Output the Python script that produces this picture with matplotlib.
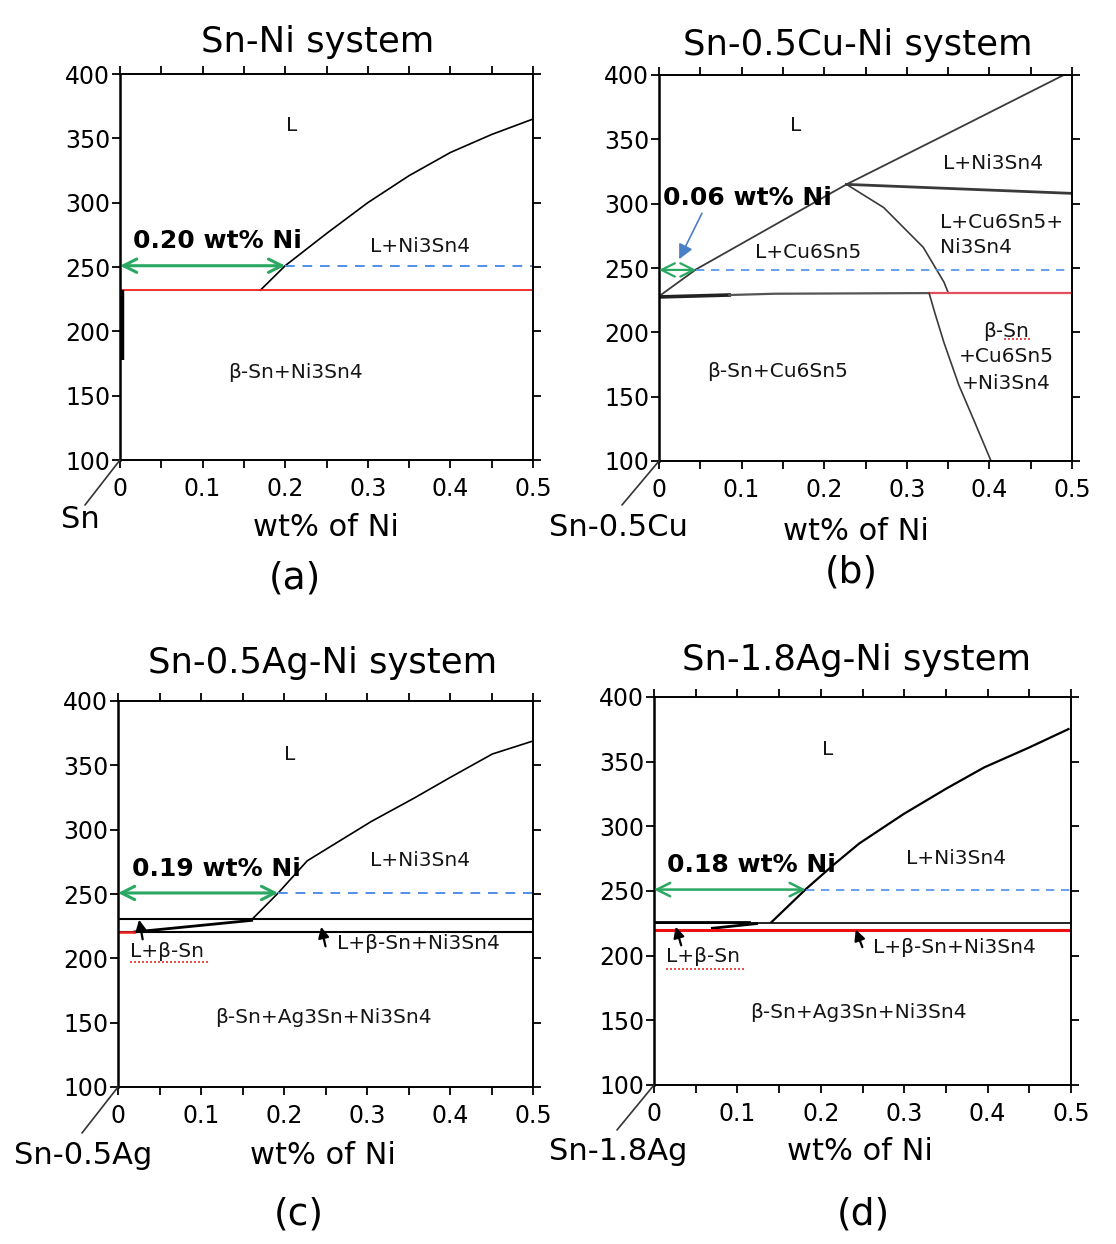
import matplotlib
matplotlib.use('Agg')
import matplotlib.pyplot as plt
from matplotlib.ticker import FixedLocator, FixedFormatter

plt.rcParams['font.family'] = ['DejaVu Sans']

W, H = 1116, 1244

# ---------------- data ----------------
x_major = [0, 0.1, 0.2, 0.3, 0.4, 0.5]
x_major_labels = ['0', '0.1', '0.2', '0.3', '0.4', '0.5']
x_minor = [0.05, 0.15, 0.25, 0.35, 0.45]
y_major = [100, 150, 200, 250, 300, 350, 400]
y_labels = ['100', '150', '200', '250', '300', '350', '400']

titles = ['Sn-Ni system', 'Sn-0.5Cu-Ni system', 'Sn-0.5Ag-Ni system', 'Sn-1.8Ag-Ni system']
panel_tags = ['(a)', '(b)', '(c)', '(d)']
base_names = ['Sn', 'Sn-0.5Cu', 'Sn-0.5Ag', 'Sn-1.8Ag']
xlabel = 'wt% of Ni'

# (a) Sn-Ni
a_liq_x = [0.17, 0.20, 0.25, 0.30, 0.35, 0.40, 0.45, 0.50]
a_liq_T = [232, 251, 276, 300, 321, 339, 353, 365]
a_eut_T = 232
a_sn_T = [178, 232]
a_sol_x = 0.20
a_iso_T = 251

# (b) Sn-0.5Cu-Ni
b_liq1_x = [0.0, 0.045, 0.227]
b_liq1_T = [228, 249, 315]
b_liq2_x = [0.227, 0.345, 0.49]
b_liq2_T = [315, 353, 400]
b_tie_x = [0.227, 0.5]
b_tie_T = [315, 308]
b_bound_x = [0.227, 0.272, 0.320, 0.345, 0.350]
b_bound_T = [315, 297, 266, 239, 231]
b_eut_thick_x = [0.0, 0.085]
b_eut_thick_T = [227.5, 229]
b_eut_x = [0.085, 0.14, 0.327]
b_eut_T = [229, 230, 230.5]
b_eut_red_x = [0.327, 0.5]
b_eut_red_T = [230.5, 230.5]
b_solv_x = [0.327, 0.334, 0.345, 0.363, 0.381, 0.402]
b_solv_T = [230.5, 215, 192, 159, 132, 100]
b_sol_x = 0.045
b_iso_T = 248.5

# (c) Sn-0.5Ag-Ni
c_liq_x = [0.161, 0.193, 0.228, 0.305, 0.357, 0.400, 0.451, 0.500]
c_liq_T = [230, 250.8, 275.8, 306.3, 324.6, 340.5, 358.8, 368.9]
c_upper_T = 230.5
c_slope_x = [0.02, 0.161]
c_slope_T = [220.5, 229.5]
c_eut_T = 220.2
c_red_x = [0.0, 0.019]
c_sol_x = 0.193
c_iso_T = 250.8

# (d) Sn-1.8Ag-Ni
d_liq_x = [0.141, 0.182, 0.215, 0.246, 0.299, 0.350, 0.396, 0.449, 0.497]
d_liq_T = [226, 251.4, 270.1, 286.7, 309.4, 329, 345.6, 360.7, 375.2]
d_upper_T = 225.4
d_thick_x = [0.0, 0.114]
d_thick_T = [226.3, 226.3]
d_slope_x = [0.07, 0.123]
d_slope_T = [221.2, 224.8]
d_eut_T = 220
d_sol_x = 0.182
d_iso_T = 251.1

sol_labels = ['0.20 wt% Ni', '0.06 wt% Ni', '0.19 wt% Ni', '0.18 wt% Ni']

# ---------------- figure ----------------
fig = plt.figure(figsize=(W / 100, H / 100), dpi=100)

def px(x, y):
    return (x / W, 1 - y / H)

rects = [
    (120, 74, 533, 460),
    (659, 75, 1072, 461),
    (118, 701, 533, 1087),
    (654, 697, 1071, 1085),
]
axes = []
for (l, t, r, b) in rects:
    ax = fig.add_axes([l / W, 1 - b / H, (r - l) / W, (b - t) / H])
    axes.append(ax)

def setup(ax):
    ax.set_xlim(0, 0.5)
    ax.set_ylim(100, 400)
    ax.xaxis.set_major_locator(FixedLocator(x_major))
    ax.xaxis.set_major_formatter(FixedFormatter(x_major_labels))
    ax.xaxis.set_minor_locator(FixedLocator(x_minor))
    ax.yaxis.set_major_locator(FixedLocator(y_major))
    ax.yaxis.set_major_formatter(FixedFormatter(y_labels))
    ax.tick_params(axis='both', which='both', direction='out', length=5.5, width=1.3,
                   top=True, right=True, labeltop=False, labelright=False)
    ax.tick_params(axis='x', which='major', labelsize=17, pad=7)
    ax.tick_params(axis='y', which='major', labelsize=17, pad=1.5)
    for s in ax.spines.values():
        s.set_linewidth(1.4)
    ax.spines['left'].set_linewidth(1.8)

for ax in axes:
    setup(ax)

green = '#2aa862'
blue = '#4f8fe8'
txtc = '#151515'
region_fs = 14.5

def green_arrow(ax, x1, T, lw=2.2):
    ax.annotate('', xy=(0, T), xytext=(x1, T),
                arrowprops=dict(arrowstyle='<->', color=green, lw=lw,
                                mutation_scale=24, shrinkA=0, shrinkB=0),
                annotation_clip=False)

def blue_dash(ax, x0, T, lw=1.4):
    ax.plot([x0, 0.5], [T, T], color=blue, lw=lw, ls=(0, (5, 4)))

def black_arrow(ax, tail, tip):
    ax.annotate('', xy=tip, xytext=tail,
                arrowprops=dict(arrowstyle='-|>', color='black', lw=1.6,
                                mutation_scale=16, shrinkA=0, shrinkB=0))

def red_wave(ax, x0, x1, T):
    ax.plot([x0, x1], [T, T], color='#e03030', lw=1.2, ls=(0, (1.2, 1.2)))

# ---- (a)
ax = axes[0]
ax.plot(a_liq_x, a_liq_T, color='black', lw=1.2)
ax.plot([0, 0.5], [a_eut_T, a_eut_T], color='#ee2020', lw=1.3)
ax.plot([0.002, 0.002], a_sn_T, color='black', lw=3.2, solid_capstyle='butt')
blue_dash(ax, a_sol_x, a_iso_T)
green_arrow(ax, a_sol_x, a_iso_T)
ax.text(0.016, 270, sol_labels[0], fontsize=18, fontweight='bold', va='center', ha='left', color='black')
ax.text(0.208, 360, 'L', fontsize=region_fs, ha='center', va='center', color=txtc)
ax.text(0.363, 266, 'L+Ni3Sn4', fontsize=region_fs, ha='center', va='center', color=txtc)
ax.text(0.212, 168, 'β-Sn+Ni3Sn4', fontsize=region_fs, ha='center', va='center', color=txtc)

# ---- (b)
ax = axes[1]
gray = '#3a3a3a'
ax.plot(b_liq1_x, b_liq1_T, color=gray, lw=1.3)
ax.plot(b_liq2_x, b_liq2_T, color=gray, lw=1.3)
ax.plot(b_tie_x, b_tie_T, color=gray, lw=2.0)
ax.plot(b_bound_x, b_bound_T, color=gray, lw=1.2)
ax.plot(b_eut_thick_x, b_eut_thick_T, color='#222222', lw=2.6)
ax.plot(b_eut_x, b_eut_T, color='#555555', lw=1.6)
ax.plot(b_eut_red_x, b_eut_red_T, color='#e05060', lw=1.6)
ax.plot(b_solv_x, b_solv_T, color=gray, lw=1.2)
blue_dash(ax, b_sol_x, b_iso_T, lw=1.2)
green_arrow(ax, b_sol_x, b_iso_T, lw=1.6)
ax.text(0.005, 304.4, sol_labels[1], fontsize=18, fontweight='bold', va='center', ha='left', color='black')
ax.annotate('', xy=(0.0244, 256.8), xytext=(0.052, 292.5),
            arrowprops=dict(arrowstyle='-|>', color='#4a7fc8', lw=1.2,
                            mutation_scale=22, shrinkA=0, shrinkB=0))
ax.text(0.165, 360.8, 'L', fontsize=region_fs, ha='center', va='center', color=txtc)
ax.text(0.404, 331, 'L+Ni3Sn4', fontsize=region_fs, ha='center', va='center', color=txtc)
ax.text(0.181, 262, 'L+Cu6Sn5', fontsize=region_fs, ha='center', va='center', color=txtc)
ax.text(0.3406, 285, 'L+Cu6Sn5+', fontsize=region_fs, ha='left', va='center', color=txtc)
ax.text(0.3406, 265.7, 'Ni3Sn4', fontsize=region_fs, ha='left', va='center', color=txtc)
ax.text(0.4205, 200.4, 'β-Sn', fontsize=region_fs, ha='center', va='center', color=txtc)
ax.text(0.4205, 181, '+Cu6Sn5', fontsize=region_fs, ha='center', va='center', color=txtc)
ax.text(0.4205, 160, '+Ni3Sn4', fontsize=region_fs, ha='center', va='center', color=txtc)
red_wave(ax, 0.418, 0.450, 194.5)
ax.text(0.143, 169.2, 'β-Sn+Cu6Sn5', fontsize=region_fs, ha='center', va='center', color=txtc)

# ---- (c)
ax = axes[2]
ax.plot(c_liq_x, c_liq_T, color='black', lw=1.2)
ax.plot([0, 0.5], [c_upper_T, c_upper_T], color='black', lw=1.5)
ax.plot(c_slope_x, c_slope_T, color='black', lw=2.0)
ax.plot([0, 0.5], [c_eut_T, c_eut_T], color='black', lw=1.5)
ax.plot(c_red_x, [c_eut_T, c_eut_T], color='#ee2020', lw=1.8)
blue_dash(ax, c_sol_x, c_iso_T)
green_arrow(ax, c_sol_x, c_iso_T)
ax.text(0.0168, 269.7, sol_labels[2], fontsize=18, fontweight='bold', va='center', ha='left', color='black')
black_arrow(ax, (0.0297, 214.8), (0.0254, 230))
black_arrow(ax, (0.250, 209.3), (0.2448, 224.5))
ax.text(0.207, 358.8, 'L', fontsize=region_fs, ha='center', va='center', color=txtc)
ax.text(0.364, 275.8, 'L+Ni3Sn4', fontsize=region_fs, ha='center', va='center', color=txtc)
ax.text(0.0146, 205, 'L+β-Sn', fontsize=region_fs, ha='left', va='center', color=txtc)
red_wave(ax, 0.0146, 0.111, 197)
ax.text(0.264, 211.7, 'L+β-Sn+Ni3Sn4', fontsize=region_fs, ha='left', va='center', color=txtc)
ax.text(0.247, 154.3, 'β-Sn+Ag3Sn+Ni3Sn4', fontsize=region_fs, ha='center', va='center', color=txtc)

# ---- (d)
ax = axes[3]
ax.plot(d_liq_x, d_liq_T, color='black', lw=1.6)
ax.plot([0, 0.5], [d_upper_T, d_upper_T], color='black', lw=1.2)
ax.plot(d_thick_x, d_thick_T, color='black', lw=2.0)
ax.plot(d_slope_x, d_slope_T, color='black', lw=2.0)
ax.plot([0, 0.5], [d_eut_T, d_eut_T], color='#ee1010', lw=2.2)
blue_dash(ax, d_sol_x, d_iso_T, lw=1.2)
green_arrow(ax, d_sol_x, d_iso_T, lw=1.8)
ax.text(0.015, 270, sol_labels[3], fontsize=18, fontweight='bold', va='center', ha='left', color='black')
black_arrow(ax, (0.0326, 208), (0.026, 222.4))
black_arrow(ax, (0.2498, 206.6), (0.2419, 220.2))
ax.text(0.208, 359.2, 'L', fontsize=region_fs, ha='center', va='center', color=txtc)
ax.text(0.362, 275.2, 'L+Ni3Sn4', fontsize=region_fs, ha='center', va='center', color=txtc)
ax.text(0.014, 199.7, 'L+β-Sn', fontsize=region_fs, ha='left', va='center', color=txtc)
red_wave(ax, 0.014, 0.110, 189.7)
ax.text(0.2626, 206.6, 'L+β-Sn+Ni3Sn4', fontsize=region_fs, ha='left', va='center', color=txtc)
ax.text(0.2454, 156, 'β-Sn+Ag3Sn+Ni3Sn4', fontsize=region_fs, ha='center', va='center', color=txtc)

# ---- figure-level texts
title_pos = [(318, 42), (858, 45), (323, 663), (857, 660)]
tag_pos = [(295, 578), (851, 573), (299, 1215), (863, 1215)]
xlabel_pos = [(326, 527), (856, 531), (323, 1155), (860, 1151)]
base_pos = [(80, 520), (618, 527), (83, 1155), (618, 1152)]
line_start = [(85, 505), (622, 505), (82, 1133), (617, 1130)]

for i, ax in enumerate(axes):
    fig.text(*px(*title_pos[i]), titles[i], fontsize=25.5, ha='center', va='center')
    fig.text(*px(*tag_pos[i]), panel_tags[i], fontsize=27, ha='center', va='center')
    fig.text(*px(*xlabel_pos[i]), xlabel, fontsize=22, ha='center', va='center')
    fig.text(*px(*base_pos[i]), base_names[i], fontsize=22, ha='center', va='center')
    ax.annotate('', xy=(0, 100), xycoords='data',
                xytext=px(*line_start[i]), textcoords='figure fraction',
                arrowprops=dict(arrowstyle='-', color='#333333', lw=1.2,
                                shrinkA=0, shrinkB=0),
                annotation_clip=False)

fig.savefig('out.png', dpi=100)
